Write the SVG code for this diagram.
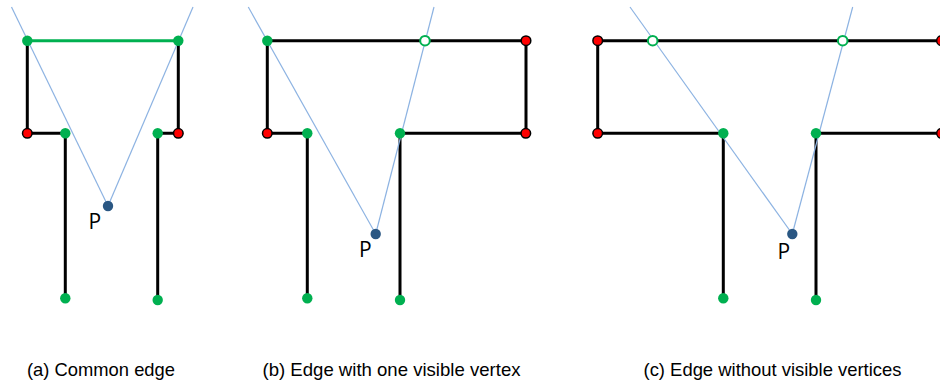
<svg xmlns="http://www.w3.org/2000/svg" width="940" height="385" viewBox="0 0 940 385">
<style>
.wall{fill:none;stroke:#000;stroke-width:3;stroke-linejoin:miter}
.common{fill:none;stroke:#00b050;stroke-width:3}
.ray{fill:none;stroke:#8db3e2;stroke-width:1.2}
.g{fill:#00b050}
.r{fill:#ff0000;stroke:#000;stroke-width:1.5}
.h{fill:#fff;stroke:#00b050;stroke-width:2}
.p{fill:#2a5783}
.pl{font-family:"Open Sans","Liberation Sans",Arial,sans-serif;font-size:21px;fill:#000}
.cap{font-family:"Liberation Sans",Arial,sans-serif;font-size:18.4px;fill:#000}
</style>
<g id="connectors">
<polyline class="wall" points="27.3,40.7 27.3,133.3 65.3,133.3 65.3,298.3"/>
<polyline class="wall" points="178.3,40.7 178.3,133.3 157.7,133.3 157.7,300"/>
<line class="common" x1="27.3" y1="40.7" x2="178.3" y2="40.7"/>
<line class="ray" x1="11.5" y1="7" x2="108" y2="206"/>
<line class="ray" x1="193" y1="7" x2="108" y2="206"/>
<polyline class="wall" points="307.3,298.3 307.3,133.3 267.3,133.3 267.3,40.7 526,40.7 526,133.3 400,133.3 400,300"/>
<line class="ray" x1="248.3" y1="7" x2="375.7" y2="234"/>
<line class="ray" x1="434" y1="7" x2="375.7" y2="234"/>
<polyline class="wall" points="723.3,298.3 723.3,133.3 597.7,133.3 597.7,40.7 945,40.7"/>
<polyline class="wall" points="816,300 816,133.3 945,133.3"/>
<line class="ray" x1="630" y1="7" x2="792.3" y2="234"/>
<line class="ray" x1="852.7" y1="7" x2="792.3" y2="234"/>
</g>
<g id="panel-a">
<circle class="g" cx="27.3" cy="40.7" r="5.2"/>
<circle class="g" cx="178.3" cy="40.7" r="5.2"/>
<circle class="r" cx="27.3" cy="133.3" r="4.8"/>
<circle class="g" cx="65.3" cy="133.3" r="5.2"/>
<circle class="g" cx="157.7" cy="133.3" r="5.2"/>
<circle class="r" cx="178.3" cy="133.3" r="4.8"/>
<circle class="g" cx="65.3" cy="298.3" r="5.2"/>
<circle class="g" cx="157.7" cy="300" r="5.2"/>
<circle class="p" cx="108" cy="206" r="5.2"/>
<text class="pl" x="88.5" y="228.5">P</text>
</g>
<g id="panel-b">
<circle class="g" cx="267.3" cy="40.7" r="5.2"/>
<circle class="h" cx="425" cy="40.7" r="4.8"/>
<circle class="r" cx="526" cy="40.7" r="4.8"/>
<circle class="r" cx="267.3" cy="133.3" r="4.8"/>
<circle class="g" cx="307.3" cy="133.3" r="5.2"/>
<circle class="g" cx="400" cy="133.3" r="5.2"/>
<circle class="r" cx="525.8" cy="133.3" r="4.8"/>
<circle class="g" cx="307.3" cy="298.3" r="5.2"/>
<circle class="g" cx="400" cy="300" r="5.2"/>
<circle class="p" cx="375.7" cy="234" r="5.2"/>
<text class="pl" x="359" y="256.5">P</text>
</g>
<g id="panel-c">
<circle class="r" cx="597.7" cy="40.7" r="4.8"/>
<circle class="h" cx="652.7" cy="40.7" r="4.8"/>
<circle class="h" cx="842.7" cy="40.7" r="4.8"/>
<circle class="r" cx="941.5" cy="40.7" r="4.8"/>
<circle class="r" cx="597.7" cy="133.3" r="4.8"/>
<circle class="g" cx="723.3" cy="133.3" r="5.2"/>
<circle class="g" cx="816" cy="133.3" r="5.2"/>
<circle class="r" cx="941.5" cy="133.3" r="4.8"/>
<circle class="g" cx="723.3" cy="298.3" r="5.2"/>
<circle class="g" cx="816" cy="300" r="5.2"/>
<circle class="p" cx="792.3" cy="234" r="5.2"/>
<text class="pl" x="777.5" y="259">P</text>
</g>
<g id="captions">
<text class="cap" x="27" y="376" textLength="148" lengthAdjust="spacingAndGlyphs">(a) Common edge</text>
<text class="cap" x="262.5" y="376" textLength="258" lengthAdjust="spacingAndGlyphs">(b) Edge with one visible vertex</text>
<text class="cap" x="643.5" y="376" textLength="258" lengthAdjust="spacingAndGlyphs">(c) Edge without visible vertices</text>
</g>
</svg>
